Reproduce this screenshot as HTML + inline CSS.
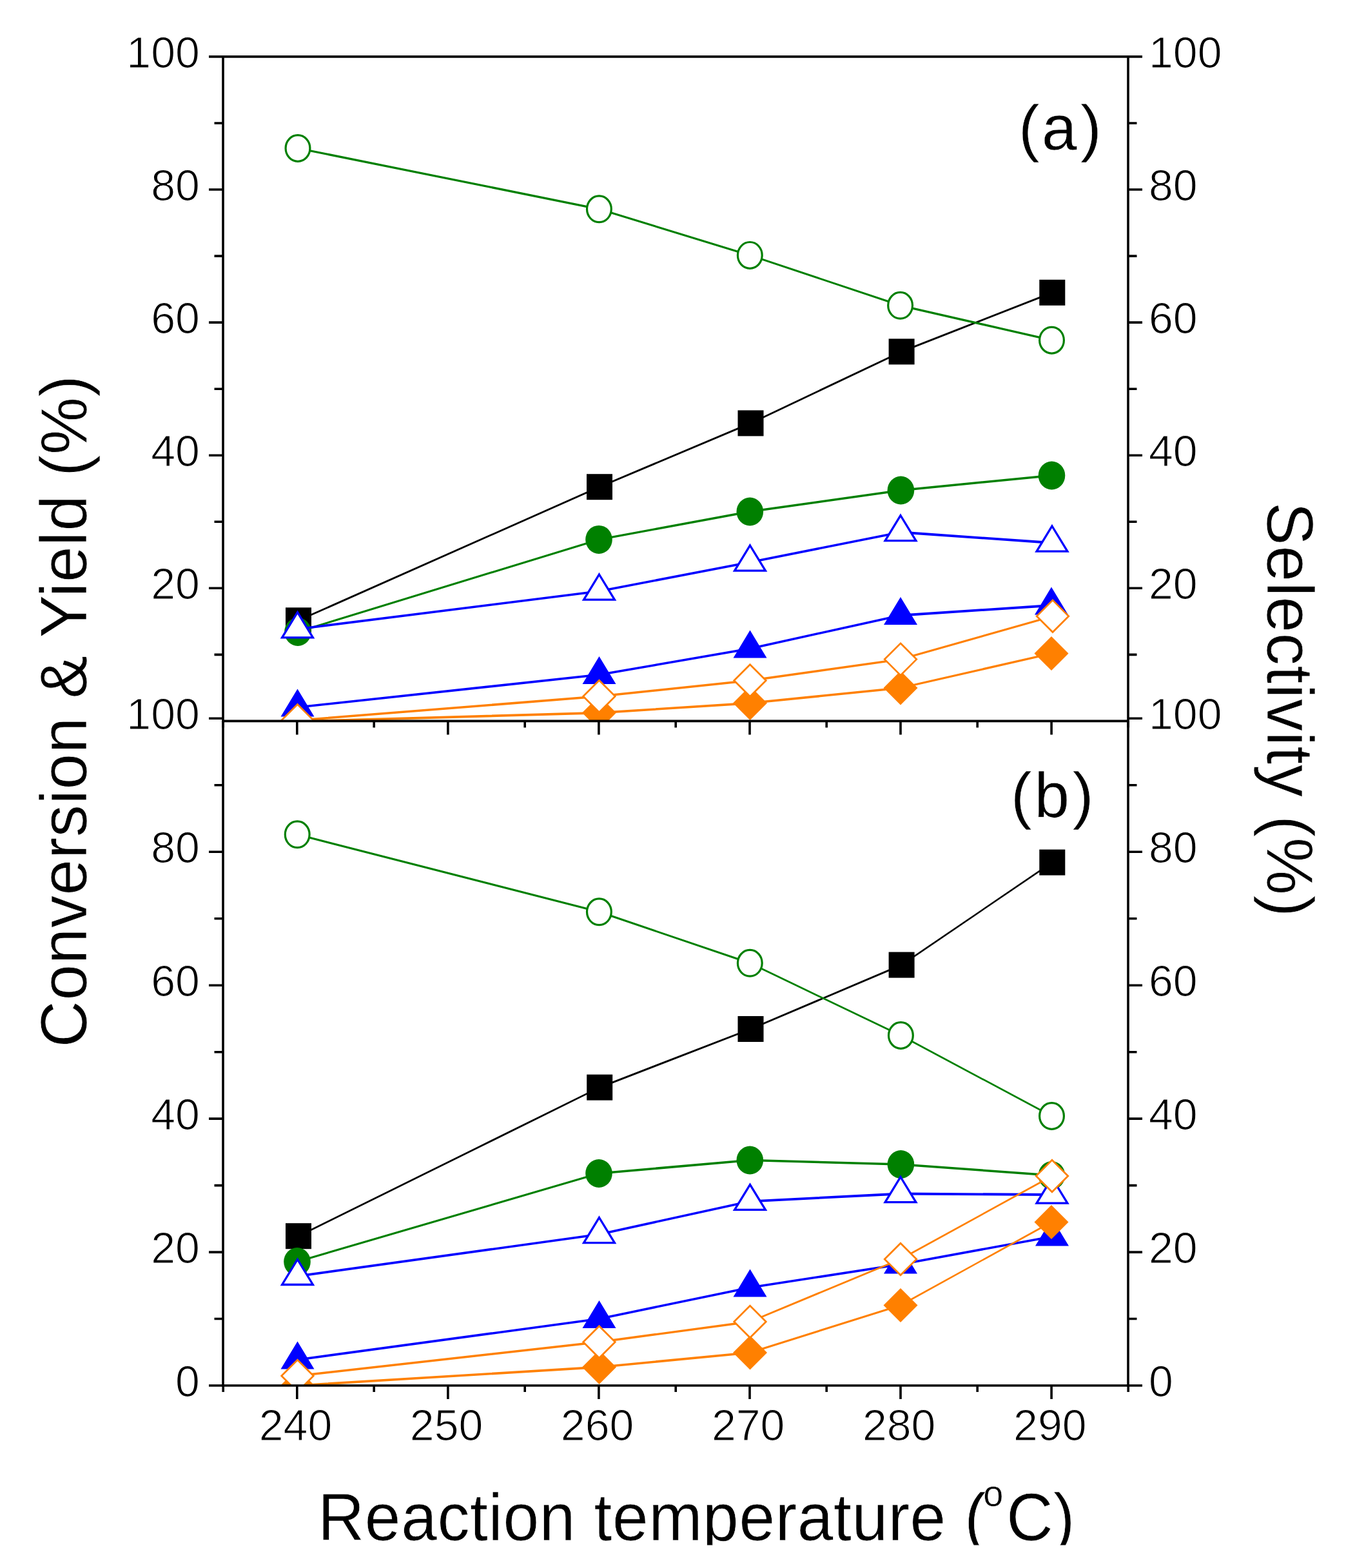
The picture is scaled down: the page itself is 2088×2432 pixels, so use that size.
<!DOCTYPE html>
<html><head><meta charset="utf-8"><title>Conversion and selectivity vs reaction temperature</title>
<style>html,body{margin:0;padding:0;background:#fff;}svg{display:block;}</style>
</head><body>
<svg width="2088" height="2432" viewBox="0 0 2088 2432">
<defs>
<clipPath id="ctop"><rect x="346" y="87.9" width="1404" height="1030.5"/></clipPath>
<clipPath id="cbot"><rect x="346" y="1118.4" width="1404" height="1030.6"/></clipPath>
<clipPath id="cliptitle"><rect x="0" y="2250" width="2088" height="146.5"/></clipPath>
</defs>
<rect width="2088" height="2432" fill="#fff"/>
<g clip-path="url(#ctop)">
<g fill="none" stroke="#000000" stroke-linecap="round"><path d="M463 962.3L930 755.2" stroke-width="2.81"/><path d="M930 755.2L1164.5 656.4" stroke-width="2.86"/><path d="M1164.5 656.4L1398.6 545.4" stroke-width="2.75"/><path d="M1398.6 545.4L1632.3 453.8" stroke-width="2.92"/></g>
<rect x="443" y="942.3" width="40" height="40" fill="#000000"/>
<rect x="910" y="735.2" width="40" height="40" fill="#000000"/>
<rect x="1144.5" y="636.4" width="40" height="40" fill="#000000"/>
<rect x="1378.6" y="525.4" width="40" height="40" fill="#000000"/>
<rect x="1612.3" y="433.8" width="40" height="40" fill="#000000"/>
<g fill="none" stroke="#008000" stroke-linecap="round"><path d="M462 980L929 836.9" stroke-width="3.09"/><path d="M929 836.9L1163.3 793.5" stroke-width="3.33"/><path d="M1163.3 793.5L1397.4 760.5" stroke-width="3.42"/><path d="M1397.4 760.5L1631.5 737.5" stroke-width="3.50"/></g>
<ellipse cx="462" cy="980" rx="20.8" ry="22" fill="#008000"/>
<ellipse cx="929" cy="836.9" rx="20.8" ry="22" fill="#008000"/>
<ellipse cx="1163.3" cy="793.5" rx="20.8" ry="22" fill="#008000"/>
<ellipse cx="1397.4" cy="760.5" rx="20.8" ry="22" fill="#008000"/>
<ellipse cx="1631.5" cy="737.5" rx="20.8" ry="22" fill="#008000"/>
<g fill="none" stroke="#008000" stroke-linecap="round"><path d="M462 230L929.4 324.3" stroke-width="3.30"/><path d="M929.4 324.3L1163.3 395.9" stroke-width="3.09"/><path d="M1163.3 395.9L1396.6 473.8" stroke-width="3.03"/><path d="M1396.6 473.8L1631.5 527.7" stroke-width="3.24"/></g>
<ellipse cx="462" cy="230" rx="18.9" ry="20.4" fill="#fff" stroke="#008000" stroke-width="3.2"/>
<ellipse cx="929.4" cy="324.3" rx="18.9" ry="20.4" fill="#fff" stroke="#008000" stroke-width="3.2"/>
<ellipse cx="1163.3" cy="395.9" rx="18.9" ry="20.4" fill="#fff" stroke="#008000" stroke-width="3.2"/>
<ellipse cx="1396.6" cy="473.8" rx="18.9" ry="20.4" fill="#fff" stroke="#008000" stroke-width="3.2"/>
<ellipse cx="1631.5" cy="527.7" rx="18.9" ry="20.4" fill="#fff" stroke="#008000" stroke-width="3.2"/>
<g fill="none" stroke="#0000FF" stroke-linecap="round"><path d="M461.5 975.7L929.5 917" stroke-width="3.65"/><path d="M929.5 917L1163.5 872" stroke-width="3.52"/><path d="M1163.5 872L1397 825.5" stroke-width="3.50"/><path d="M1397 825.5L1632 842" stroke-width="3.76"/></g>
<path d="M461.5 949.7L485.4 988.8L437.6 988.8Z" fill="#fff" stroke="#0000FF" stroke-width="3.3" stroke-linejoin="miter"/>
<path d="M929.5 891L953.4 930.1L905.6 930.1Z" fill="#fff" stroke="#0000FF" stroke-width="3.3" stroke-linejoin="miter"/>
<path d="M1163.5 846L1187.4 885.1L1139.6 885.1Z" fill="#fff" stroke="#0000FF" stroke-width="3.3" stroke-linejoin="miter"/>
<path d="M1397 799.5L1420.9 838.6L1373.1 838.6Z" fill="#fff" stroke="#0000FF" stroke-width="3.3" stroke-linejoin="miter"/>
<path d="M1632 816L1655.9 855.1L1608.1 855.1Z" fill="#fff" stroke="#0000FF" stroke-width="3.3" stroke-linejoin="miter"/>
<g fill="none" stroke="#0000FF" stroke-linecap="round"><path d="M461.5 1097L929.5 1046.5" stroke-width="3.68"/><path d="M929.5 1046.5L1163.5 1006" stroke-width="3.55"/><path d="M1163.5 1006L1397 954.5" stroke-width="3.46"/><path d="M1397 954.5L1631 939" stroke-width="3.77"/></g>
<path d="M461.5 1068.5L487.5 1111.5L435.5 1111.5Z" fill="#0000FF"/>
<path d="M929.5 1018L955.5 1061L903.5 1061Z" fill="#0000FF"/>
<path d="M1163.5 977.5L1189.5 1020.5L1137.5 1020.5Z" fill="#0000FF"/>
<path d="M1397 926L1423 969L1371 969Z" fill="#0000FF"/>
<path d="M1631 910.5L1657 953.5L1605 953.5Z" fill="#0000FF"/>
<g fill="none" stroke="#FF8000" stroke-linecap="round"><path d="M461.5 1119L929.5 1105.6" stroke-width="3.64"/><path d="M929.5 1105.6L1163.5 1090.6" stroke-width="3.57"/><path d="M1163.5 1090.6L1397 1067" stroke-width="3.50"/><path d="M1397 1067L1631 1013.6" stroke-width="3.24"/></g>
<path d="M461.5 1092.5L488 1119L461.5 1145.5L435 1119Z" fill="#FF8000"/>
<path d="M929.5 1079.1L956 1105.6L929.5 1132.1L903 1105.6Z" fill="#FF8000"/>
<path d="M1163.5 1064.1L1190 1090.6L1163.5 1117.1L1137 1090.6Z" fill="#FF8000"/>
<path d="M1397 1040.5L1423.5 1067L1397 1093.5L1370.5 1067Z" fill="#FF8000"/>
<path d="M1631 987.1L1657.5 1013.6L1631 1040.1L1604.5 1013.6Z" fill="#FF8000"/>
<g fill="none" stroke="#FF8000" stroke-linecap="round"><path d="M461.5 1117.3L929.5 1080" stroke-width="3.54"/><path d="M929.5 1080L1163.5 1055.5" stroke-width="3.49"/><path d="M1163.5 1055.5L1397 1022.6" stroke-width="3.42"/><path d="M1397 1022.6L1633 955.7" stroke-width="3.13"/></g>
<path d="M461.5 1092.5L486.3 1117.3L461.5 1142.1L436.7 1117.3Z" fill="#fff" stroke="#FF8000" stroke-width="2.7" stroke-linejoin="miter"/>
<path d="M929.5 1055.2L954.3 1080L929.5 1104.8L904.7 1080Z" fill="#fff" stroke="#FF8000" stroke-width="2.7" stroke-linejoin="miter"/>
<path d="M1163.5 1030.7L1188.3 1055.5L1163.5 1080.3L1138.7 1055.5Z" fill="#fff" stroke="#FF8000" stroke-width="2.7" stroke-linejoin="miter"/>
<path d="M1397 997.8L1421.8 1022.6L1397 1047.4L1372.2 1022.6Z" fill="#fff" stroke="#FF8000" stroke-width="2.7" stroke-linejoin="miter"/>
<path d="M1633 930.9L1657.8 955.7L1633 980.5L1608.2 955.7Z" fill="#fff" stroke="#FF8000" stroke-width="2.7" stroke-linejoin="miter"/>
</g>
<g clip-path="url(#cbot)">
<g fill="none" stroke="#000000" stroke-linecap="round"><path d="M463 1917.2L930.2 1686.6" stroke-width="2.71"/><path d="M930.2 1686.6L1164.5 1596" stroke-width="2.93"/><path d="M1164.5 1596L1398.6 1496.6" stroke-width="2.85"/><path d="M1398.6 1496.6L1632.3 1337.6" stroke-width="2.50"/></g>
<rect x="443" y="1897.2" width="40" height="40" fill="#000000"/>
<rect x="910.2" y="1666.6" width="40" height="40" fill="#000000"/>
<rect x="1144.5" y="1576" width="40" height="40" fill="#000000"/>
<rect x="1378.6" y="1476.6" width="40" height="40" fill="#000000"/>
<rect x="1612.3" y="1317.6" width="40" height="40" fill="#000000"/>
<g fill="none" stroke="#008000" stroke-linecap="round"><path d="M461 1957L929 1820" stroke-width="3.11"/><path d="M929 1820L1163.3 1799.5" stroke-width="3.53"/><path d="M1163.3 1799.5L1397.4 1806" stroke-width="3.64"/><path d="M1397.4 1806L1631.5 1823" stroke-width="3.55"/></g>
<ellipse cx="461" cy="1957" rx="20.8" ry="22" fill="#008000"/>
<ellipse cx="929" cy="1820" rx="20.8" ry="22" fill="#008000"/>
<ellipse cx="1163.3" cy="1799.5" rx="20.8" ry="22" fill="#008000"/>
<ellipse cx="1397.4" cy="1806" rx="20.8" ry="22" fill="#008000"/>
<ellipse cx="1631.5" cy="1823" rx="20.8" ry="22" fill="#008000"/>
<g fill="none" stroke="#008000" stroke-linecap="round"><path d="M461.2 1294.3L929.4 1414.3" stroke-width="3.19"/><path d="M929.4 1414.3L1163.3 1493.8" stroke-width="3.02"/><path d="M1163.3 1493.8L1397.4 1606" stroke-width="2.74"/><path d="M1397.4 1606L1631.5 1731" stroke-width="2.63"/></g>
<ellipse cx="461.2" cy="1294.3" rx="18.9" ry="20.4" fill="#fff" stroke="#008000" stroke-width="3.2"/>
<ellipse cx="929.4" cy="1414.3" rx="18.9" ry="20.4" fill="#fff" stroke="#008000" stroke-width="3.2"/>
<ellipse cx="1163.3" cy="1493.8" rx="18.9" ry="20.4" fill="#fff" stroke="#008000" stroke-width="3.2"/>
<ellipse cx="1397.4" cy="1606" rx="18.9" ry="20.4" fill="#fff" stroke="#008000" stroke-width="3.2"/>
<ellipse cx="1631.5" cy="1731" rx="18.9" ry="20.4" fill="#fff" stroke="#008000" stroke-width="3.2"/>
<g fill="none" stroke="#0000FF" stroke-linecap="round"><path d="M461.5 1979.4L929.5 1914.5" stroke-width="3.62"/><path d="M929.5 1914.5L1163.5 1863.3" stroke-width="3.46"/><path d="M1163.5 1863.3L1397 1851.5" stroke-width="3.80"/><path d="M1397 1851.5L1632 1853" stroke-width="3.89"/></g>
<path d="M461.5 1953.4L485.4 1992.5L437.6 1992.5Z" fill="#fff" stroke="#0000FF" stroke-width="3.3" stroke-linejoin="miter"/>
<path d="M929.5 1888.5L953.4 1927.6L905.6 1927.6Z" fill="#fff" stroke="#0000FF" stroke-width="3.3" stroke-linejoin="miter"/>
<path d="M1163.5 1837.3L1187.4 1876.4L1139.6 1876.4Z" fill="#fff" stroke="#0000FF" stroke-width="3.3" stroke-linejoin="miter"/>
<path d="M1397 1825.5L1420.9 1864.6L1373.1 1864.6Z" fill="#fff" stroke="#0000FF" stroke-width="3.3" stroke-linejoin="miter"/>
<path d="M1632 1827L1655.9 1866.1L1608.1 1866.1Z" fill="#fff" stroke="#0000FF" stroke-width="3.3" stroke-linejoin="miter"/>
<g fill="none" stroke="#0000FF" stroke-linecap="round"><path d="M461.5 2109L929.5 2045.5" stroke-width="3.63"/><path d="M929.5 2045.5L1163.5 1997" stroke-width="3.49"/><path d="M1163.5 1997L1397 1961" stroke-width="3.59"/><path d="M1397 1961L1632 1918" stroke-width="3.53"/></g>
<path d="M461.5 2080.5L487.5 2123.5L435.5 2123.5Z" fill="#0000FF"/>
<path d="M929.5 2017L955.5 2060L903.5 2060Z" fill="#0000FF"/>
<path d="M1163.5 1968.5L1189.5 2011.5L1137.5 2011.5Z" fill="#0000FF"/>
<path d="M1397 1932.5L1423 1975.5L1371 1975.5Z" fill="#0000FF"/>
<path d="M1632 1889.5L1658 1932.5L1606 1932.5Z" fill="#0000FF"/>
<g fill="none" stroke="#FF8000" stroke-linecap="round"><path d="M461.5 2149L929.5 2120.4" stroke-width="3.58"/><path d="M929.5 2120.4L1163.5 2098" stroke-width="3.51"/><path d="M1163.5 2098L1397 2024.5" stroke-width="3.07"/><path d="M1397 2024.5L1631 1895.5" stroke-width="2.60"/></g>
<path d="M461.5 2122.5L488 2149L461.5 2175.5L435 2149Z" fill="#FF8000"/>
<path d="M929.5 2093.9L956 2120.4L929.5 2146.9L903 2120.4Z" fill="#FF8000"/>
<path d="M1163.5 2071.5L1190 2098L1163.5 2124.5L1137 2098Z" fill="#FF8000"/>
<path d="M1397 1998L1423.5 2024.5L1397 2051L1370.5 2024.5Z" fill="#FF8000"/>
<path d="M1631 1869L1657.5 1895.5L1631 1922L1604.5 1895.5Z" fill="#FF8000"/>
<g fill="none" stroke="#FF8000" stroke-linecap="round"><path d="M461.5 2134L929.5 2081.5" stroke-width="3.48"/><path d="M929.5 2081.5L1163.5 2050" stroke-width="3.43"/><path d="M1163.5 2050L1397 1953" stroke-width="2.87"/><path d="M1397 1953L1632 1824" stroke-width="2.60"/></g>
<path d="M461.5 2109.2L486.3 2134L461.5 2158.8L436.7 2134Z" fill="#fff" stroke="#FF8000" stroke-width="2.7" stroke-linejoin="miter"/>
<path d="M929.5 2056.7L954.3 2081.5L929.5 2106.3L904.7 2081.5Z" fill="#fff" stroke="#FF8000" stroke-width="2.7" stroke-linejoin="miter"/>
<path d="M1163.5 2025.2L1188.3 2050L1163.5 2074.8L1138.7 2050Z" fill="#fff" stroke="#FF8000" stroke-width="2.7" stroke-linejoin="miter"/>
<path d="M1397 1928.2L1421.8 1953L1397 1977.8L1372.2 1953Z" fill="#fff" stroke="#FF8000" stroke-width="2.7" stroke-linejoin="miter"/>
<path d="M1632 1799.2L1656.8 1824L1632 1848.8L1607.2 1824Z" fill="#fff" stroke="#FF8000" stroke-width="2.7" stroke-linejoin="miter"/>
</g>
<path d="M346 87.9H1750" stroke="#000" stroke-width="3.6" stroke-linecap="square"/>
<path d="M346 1118.4H1750" stroke="#000" stroke-width="3.6" stroke-linecap="square"/>
<path d="M346 2149.0H1750" stroke="#000" stroke-width="3.6" stroke-linecap="square"/>
<path d="M346 87.9V2149.0" stroke="#000" stroke-width="3.6" stroke-linecap="square"/>
<path d="M1750 87.9V2149.0" stroke="#000" stroke-width="3.6" stroke-linecap="square"/>
<path d="M324 912.3H346M1750 912.3H1772M324 706.2H346M1750 706.2H1772M324 500.1H346M1750 500.1H1772M324 294H346M1750 294H1772M324 87.9H346M1750 87.9H1772M332.5 1015.4H346M1750 1015.4H1763.5M332.5 809.3H346M1750 809.3H1763.5M332.5 603.2H346M1750 603.2H1763.5M332.5 397.1H346M1750 397.1H1763.5M332.5 191H346M1750 191H1763.5M324 2149H346M1750 2149H1772M324 1942.1H346M1750 1942.1H1772M324 1735.1H346M1750 1735.1H1772M324 1528.2H346M1750 1528.2H1772M324 1321.2H346M1750 1321.2H1772M324 1114.3H346M1750 1114.3H1772M332.5 2045.5H346M1750 2045.5H1763.5M332.5 1838.6H346M1750 1838.6H1763.5M332.5 1631.7H346M1750 1631.7H1763.5M332.5 1424.7H346M1750 1424.7H1763.5M332.5 1217.8H346M1750 1217.8H1763.5M460.8 1118.4V1139.4M694.9 1118.4V1139.4M928.9 1118.4V1139.4M1163 1118.4V1139.4M1397 1118.4V1139.4M1631.1 1118.4V1139.4M346.2 1118.4V1128.4M580.2 1118.4V1128.4M814.2 1118.4V1128.4M1048.2 1118.4V1128.4M1282.2 1118.4V1128.4M1516.2 1118.4V1128.4M1750.2 1118.4V1128.4M460.8 2149V2170M694.9 2149V2170M928.9 2149V2170M1163 2149V2170M1397 2149V2170M1631.1 2149V2170M346.2 2149V2159M580.2 2149V2159M814.2 2149V2159M1048.2 2149V2159M1282.2 2149V2159M1516.2 2149V2159M1750.2 2149V2159" stroke="#000" stroke-width="3.6" stroke-linecap="butt"/>
<g font-family="'Liberation Sans', Arial, sans-serif" font-size="68" fill="#000" stroke="#fff" stroke-width="1.2">
<text x="309.8" y="929.3" text-anchor="end">20</text>
<text x="1782" y="929.3">20</text>
<text x="309.8" y="723.2" text-anchor="end">40</text>
<text x="1782" y="723.2">40</text>
<text x="309.8" y="517.1" text-anchor="end">60</text>
<text x="1782" y="517.1">60</text>
<text x="309.8" y="311" text-anchor="end">80</text>
<text x="1782" y="311">80</text>
<text x="309.8" y="104.9" text-anchor="end">100</text>
<text x="1782" y="104.9">100</text>
<text x="309.8" y="2166" text-anchor="end">0</text>
<text x="1782" y="2166">0</text>
<text x="309.8" y="1959.1" text-anchor="end">20</text>
<text x="1782" y="1959.1">20</text>
<text x="309.8" y="1752.1" text-anchor="end">40</text>
<text x="1782" y="1752.1">40</text>
<text x="309.8" y="1545.2" text-anchor="end">60</text>
<text x="1782" y="1545.2">60</text>
<text x="309.8" y="1338.2" text-anchor="end">80</text>
<text x="1782" y="1338.2">80</text>
<text x="309.8" y="1131.3" text-anchor="end">100</text>
<text x="1782" y="1131.3">100</text>
<text x="458.5" y="2234" text-anchor="middle">240</text>
<text x="692.6" y="2234" text-anchor="middle">250</text>
<text x="926.6" y="2234" text-anchor="middle">260</text>
<text x="1160.7" y="2234" text-anchor="middle">270</text>
<text x="1394.7" y="2234" text-anchor="middle">280</text>
<text x="1628.8" y="2234" text-anchor="middle">290</text>
</g>
<g font-family="'Liberation Sans', Arial, sans-serif" fill="#000" stroke="#fff">
<text x="1580 1615.9 1676.1" y="232" font-size="98" stroke-width="0.4">(a)</text>
<text x="1568 1604.5 1663.8" y="1266.8" font-size="98" stroke-width="0.4">(b)</text>
<text transform="translate(133.8 1624.5) rotate(-90) scale(1 1.015)" font-size="100" letter-spacing="0.67" stroke-width="0.7">Conversion &amp; Yield (%)</text>
<text transform="translate(1965.8 779) rotate(90) scale(1 1.02)" font-size="100" letter-spacing="0.68" stroke-width="0.7">Selectivity (%)</text>
<g clip-path="url(#cliptitle)"><g transform="translate(0 2389) scale(1 1.03)"><text x="493" y="0" font-size="100" letter-spacing="0.67" stroke-width="0.6">Reaction temperature (<tspan font-size="56" dx="-5" dy="-51">o</tspan><tspan dx="4" dy="51">C)</tspan></text></g></g>
</g>
</svg>
</body></html>
